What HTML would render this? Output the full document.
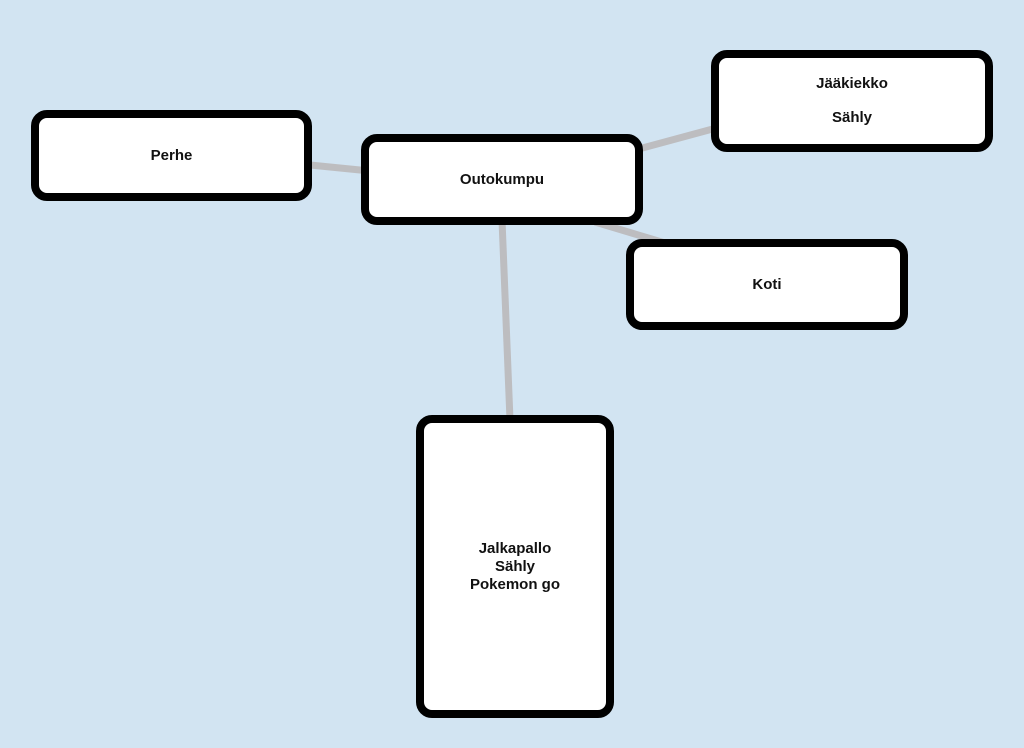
<!DOCTYPE html>
<html><head><style>
body{margin:0;width:1024px;height:748px;background:#d2e4f2;position:relative;overflow:hidden;font-family:"Liberation Sans",sans-serif}
.b{position:absolute;box-sizing:border-box;background:#fff;border:8px solid #000;border-radius:16px;display:flex;align-items:center;justify-content:center;text-align:center;font-weight:bold;font-size:15px;color:#111;line-height:18px}
svg{position:absolute;left:0;top:0}
</style></head><body>
<svg width="1024" height="748"><g stroke="#bdbdc0" stroke-width="7">
<line x1="300" y1="164" x2="370" y2="171"/>
<line x1="635" y1="150" x2="720" y2="127"/>
<line x1="595" y1="222" x2="665" y2="243"/>
<line x1="502" y1="220" x2="510" y2="420"/>
</g></svg>
<div class="b" style="left:31px;top:110px;width:281px;height:91px">Perhe</div>
<div class="b" style="left:361px;top:134px;width:282px;height:91px">Outokumpu</div>
<div class="b" style="left:711px;top:50px;width:282px;height:102px;line-height:34px">Jääkiekko<br>Sähly</div>
<div class="b" style="left:626px;top:239px;width:282px;height:91px">Koti</div>
<div class="b" style="left:416px;top:415px;width:198px;height:303px">Jalkapallo<br>Sähly<br>Pokemon go</div>
</body></html>
